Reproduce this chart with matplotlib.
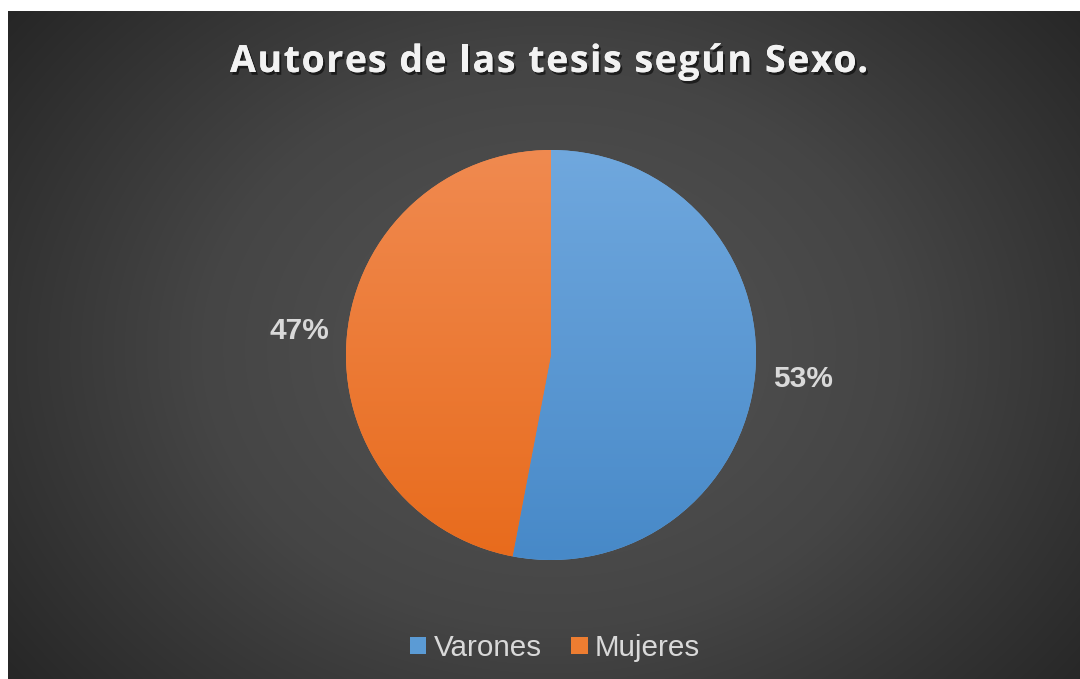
import matplotlib
matplotlib.use("Agg")
import matplotlib.pyplot as plt
import matplotlib.patheffects as pe
from matplotlib.colors import LinearSegmentedColormap
from matplotlib.patches import Patch
import numpy as np

TITLE = "Autores de las tesis según Sexo."
CATEGORIES = ["Varones", "Mujeres"]
SHARES = [53, 47]

W, H = 1080, 679
CX, CY, R = 551, H - 355, 205
TOP_COLORS = ["#70a8de", "#f08a50"]
BOTTOM_COLORS = ["#4789c8", "#e86b1c"]
TEXT_GRAY = "#d9d9d9"


def spaced_title(fig, ax, text, xc, y, width, **kw):
    # matplotlib has no letter spacing, so place each glyph by hand
    renderer = fig.canvas.get_renderer()

    def w(s):
        t = ax.text(0, 0, s + "|", **kw)
        bb = t.get_window_extent(renderer)
        t.remove()
        return bb.width

    bar = w("")
    starts = [w(text[:i]) - bar for i in range(len(text))]
    natural = w(text) - bar
    gap = (width - natural) / (len(text) - 1)
    x0 = xc - width / 2
    shadow = [pe.withSimplePatchShadow(offset=(1.5, -2), shadow_rgbFace="black", alpha=0.55),
              pe.Normal()]
    for i, ch in enumerate(text):
        if ch == " ":
            continue
        ax.text(x0 + starts[i] + i * gap, y, ch, ha="left", va="baseline",
                path_effects=shadow, **kw)


def main():
    fig = plt.figure(figsize=(W / 100, H / 100), dpi=100, facecolor="white")
    ax = fig.add_axes([0, 0, 1, 1])

    # radial background gradient
    yy, xx = np.mgrid[0:H - 11, 8:W]
    yy = H - 11 - yy
    d = np.hypot((xx - 551) / 700.0, (yy - 330) / 560.0)
    d = np.clip(d, 0, 1)
    bg = LinearSegmentedColormap.from_list("bg", ["#555555", "#454545", "#252525"])
    ax.imshow(d, cmap=bg, vmin=0, vmax=1, extent=(8, W, 0, H - 11),
              origin="upper", zorder=0, interpolation="bilinear")

    wedges, _, autotexts = ax.pie(
        SHARES, center=(CX, CY), radius=R, startangle=90, counterclock=False,
        colors=TOP_COLORS, autopct="%1.0f%%", pctdistance=1.235,
        wedgeprops=dict(linewidth=0), frame=True,
        textprops=dict(color=TEXT_GRAY, fontsize=21.5, fontweight="bold",
                       family="Liberation Sans"))
    ax.set_xlim(0, W)
    ax.set_ylim(0, H)
    ax.axis("off")

    grad = np.linspace(0, 1, 256).reshape(-1, 1)
    for w, top, bot in zip(wedges, TOP_COLORS, BOTTOM_COLORS):
        cmap = LinearSegmentedColormap.from_list("w", [top, bot])
        im = ax.imshow(grad, cmap=cmap, extent=(CX - R, CX + R, CY - R, CY + R),
                       origin="upper", aspect="auto", zorder=2)
        im.set_clip_path(w)

    spaced_title(fig, ax, TITLE, 549, H - 72, 638, color="#f2f2f2",
                 fontsize=27, fontweight="bold", family="Open Sans")

    handles = [Patch(facecolor=c, edgecolor="none") for c in ["#5b9bd5", "#ed7d31"]]
    fig.legend(handles, CATEGORIES, loc="center", bbox_to_anchor=(555 / W, 1 - 648 / H),
               ncol=2, frameon=False, labelcolor=TEXT_GRAY,
               prop=dict(family="Liberation Sans", size=21.3),
               handlelength=0.55, handleheight=0.55, handletextpad=0.25,
               columnspacing=1.0)

    fig.savefig("out.png", dpi=100, facecolor="white")


if __name__ == "__main__":
    main()
